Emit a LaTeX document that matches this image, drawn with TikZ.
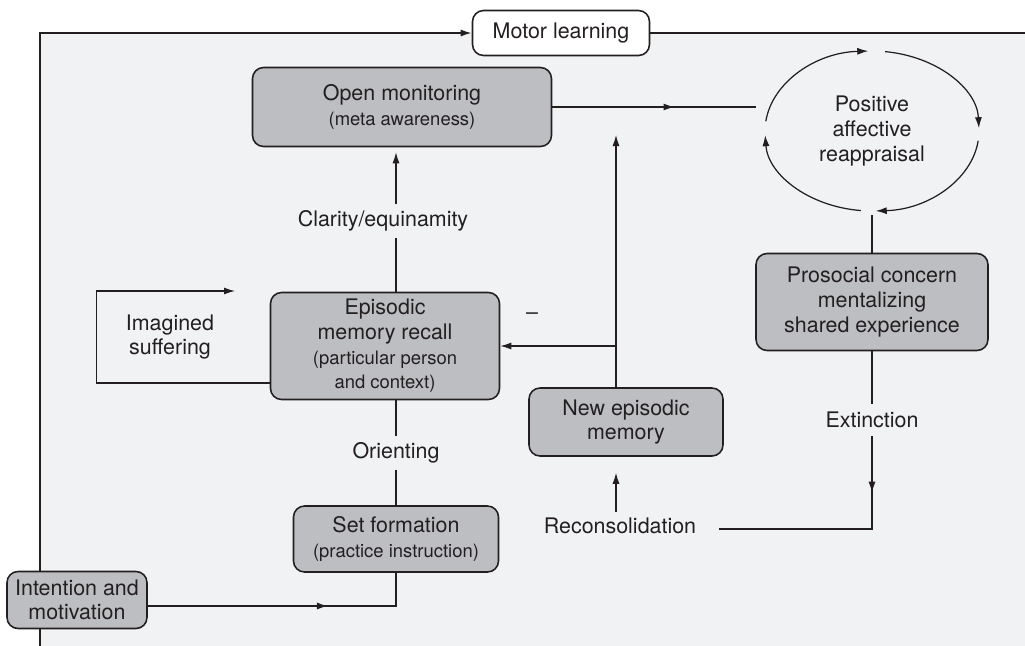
\documentclass[tikz,border=0pt]{standalone}
\usepackage{fontspec}
\setmainfont{TeX Gyre Heros}
\usepackage{tikz}
\usepackage{xcolor}
\usetikzlibrary{shapes,positioning,calc,shapes.geometric,arrows.meta,decorations.markings,backgrounds}
\definecolor{panelgray}{RGB}{241,242,244}
\definecolor{boxgray}{RGB}{189,190,194}
\definecolor{inkline}{RGB}{35,31,32}
\newcommand{\subtxt}{\fontsize{10.5}{14}\selectfont}

\begin{document}
\begin{tikzpicture}[x=0.02cm, y=-0.02cm,
		font=\fontsize{12.2}{14}\selectfont,
		every node/.style={text=inkline},
		box/.style={draw=inkline, fill=boxgray, line width=0.9pt, rounded corners=0.22cm, align=center, inner sep=0pt},
		lbl/.style={inner sep=0.12cm, align=center},
		conn/.style={draw=inkline, line width=0.7pt},
		arr/.style={conn, -{Latex[length=2.2mm,width=1.4mm]}},
		midarr/.style={conn, postaction={decorate}, decoration={markings, mark=at position #1 with {\arrow{Latex[length=2.2mm,width=1.4mm]}}}}]
				\useasboundingbox (0,0) rectangle (1025,646);
				\coordinate (corner) at (40,646);
				\coordinate (edge) at (1025,33);
				\coordinate (feed) at (756,107);
				\coordinate (rise) at (616,135);
				\coordinate (loopend) at (235,291);
				% boxes
				\node[box, fill=white, minimum width=3.54cm, minimum height=0.9cm] (motor) at (561,33) {Motor learning};
				\node[box, minimum width=5.98cm, minimum height=1.58cm] (open) at (402,107) {Open monitoring\\{\subtxt (meta awareness)}};
				\node[box, minimum width=4.58cm, minimum height=2.14cm] (epis) at (385,346) {Episodic\\memory recall\\{\subtxt (particular person}\\{\subtxt and context)}};
				\node[box, minimum width=4.1cm, minimum height=1.32cm] (setf) at (396,539) {Set formation\\{\subtxt (practice instruction)}};
				\node[box, minimum width=2.8cm, minimum height=1.14cm] (intent) at (77,600) {Intention and\\motivation};
				\node[box, minimum width=3.88cm, minimum height=1.36cm] (newep) at (626,422) {New episodic\\memory};
				\node[box, minimum width=4.64cm, minimum height=1.94cm] (proso) at (872,302) {Prosocial concern\\mentalizing\\shared experience};
				\node[ellipse, minimum width=4.28cm, minimum height=3.2cm, align=center, inner sep=0pt] (posit) at (872,131) {Positive\\affective\\reappraisal};
				% labels
				\node[lbl] (clar) at (383,221) {Clarity/equinamity};
				\node[lbl] (orient) at (396,453) {Orienting};
				\node[lbl] (imag) at (170,337) {Imagined\\suffering};
				\node[lbl] (minus) at (532,316) {\textendash};
				\node[lbl] (recon) at (620,526) {Reconsolidation};
				\node[lbl, inner sep=0.16cm] (extinc) at (872,420) {Extinction};
				% panel and frame into motor learning
				\begin{scope}[on background layer]
					\fill[panelgray] (40,33) rectangle (1025,646);
					\draw[arr, line width=0.9pt] (corner) |- (motor.west);
					\draw[conn, line width=0.9pt] (motor.east) -- (edge);
				\end{scope}
				% middle column
				\draw[conn] (epis.north -| setf) -- (clar.south -| setf);
				\draw[arr, shorten >=0.1cm] (clar.north -| setf) -- (open.south -| setf);
				\draw[conn] (epis.south -| setf) -- (orient.north);
				\draw[conn] (orient.south) -- (setf.north);
				\draw[midarr=0.64] ([yshift=-0.12cm]intent.east) -| (setf.south);
				\draw[arr] ([yshift=-0.74cm]epis.west) -- ++(-173,0) |- (loopend);
				% memory column
				\draw[arr] (newep.north -| rise) -- (rise);
				\draw[arr] (epis.east -| rise) -- (epis.east);
				\draw[arr, shorten >=0.32cm] (recon.north -| rise) -- (newep.south -| rise);
				\draw[midarr=0.6] (open.east) -- (feed);
				% right column
				\draw[conn, shorten >=0.08cm] (proso.north) -- (posit.south);
				\draw[conn] (proso.south) -- (extinc.north);
				\draw[midarr=0.23] (extinc.south) |- ([xshift=0.34cm, yshift=-0.06cm]recon.east);
				\foreach \a in {264,173,83,-7}
					\draw[arr] ($(posit.center)+(\a:2.14cm and 1.6cm)$) arc[start angle=\a, end angle=\a-81, x radius=2.14cm, y radius=1.6cm];
			\end{tikzpicture}
\end{document}
